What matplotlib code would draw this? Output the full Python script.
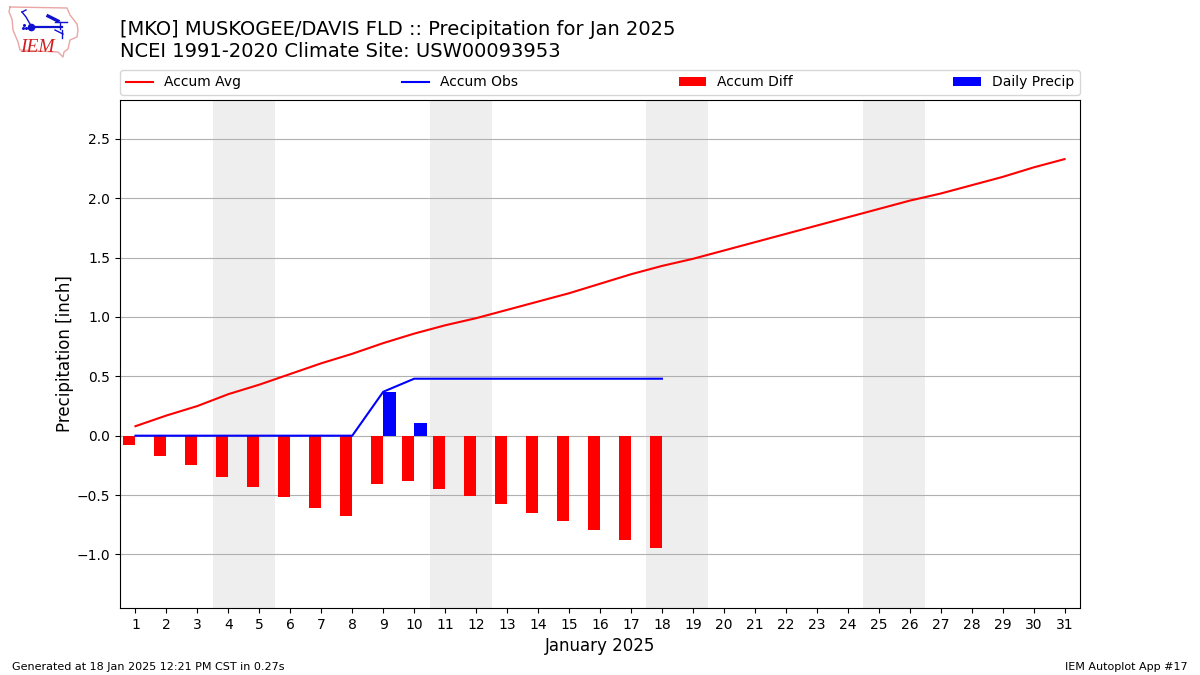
import numpy as np
import matplotlib
matplotlib.use("Agg")
import matplotlib.pyplot as plt
from matplotlib.lines import Line2D

# Days of the month
days = list(range(1, 32))
obs_days = list(range(1, 19))

# Climatology accumulation
accum_avg = [0.08, 0.17, 0.25, 0.35, 0.43, 0.52, 0.61, 0.69, 0.78, 0.86,
             0.93, 0.99, 1.06, 1.13, 1.20, 1.28, 1.36, 1.43, 1.49, 1.56,
             1.63, 1.70, 1.77, 1.84, 1.91, 1.98, 2.04, 2.11, 2.18, 2.26, 2.33]

# Observed accumulation
accum_obs = [0, 0, 0, 0, 0, 0, 0, 0, 0.37, 0.48,
             0.48, 0.48, 0.48, 0.48, 0.48, 0.48, 0.48, 0.48]

# Departure from average
accum_diff = [-0.08, -0.17, -0.25, -0.35, -0.43, -0.515, -0.61, -0.68, -0.41, -0.38,
              -0.45, -0.51, -0.575, -0.65, -0.72, -0.795, -0.88, -0.945]

# Daily precip
daily_precip = [0, 0, 0, 0, 0, 0, 0, 0, 0.37, 0.11,
                0, 0, 0, 0, 0, 0, 0, 0]

weekends = [(3.5, 5.5), (10.5, 12.5), (17.5, 19.5), (24.5, 26.5)]

fig = plt.figure(figsize=(12, 6.75), dpi=100)
ax = fig.add_axes([0.1, 1 - 608 / 675, 0.8, 508 / 675])

# Shade the weekends
for start, end in weekends:
    ax.axvspan(start, end, color="#EEEEEE", lw=0, zorder=0)

ax.plot(days, accum_avg, color="red", lw=1.5, label="Accum Avg", zorder=3)
ax.plot(obs_days, accum_obs, color="blue", lw=1.5, label="Accum Obs", zorder=3)
ax.bar(obs_days, accum_diff, width=-0.4, align="edge", color="red",
       label="Accum Diff", zorder=2)
ax.bar(obs_days, daily_precip, width=0.4, align="edge", color="blue",
       label="Daily Precip", zorder=2)

ax.set_xlim(0.5, 31.5)
ax.set_ylim(-1.4516, 2.828)
ax.set_xticks(days)
ax.set_yticks([-1.0, -0.5, 0.0, 0.5, 1.0, 1.5, 2.0, 2.5])
ax.grid(axis="y", zorder=1)
ax.set_axisbelow(True)
ax.set_xlabel("January 2025", fontsize=12)
ax.set_ylabel("Precipitation [inch]", fontsize=12, labelpad=2)
ax.legend(loc="lower left", bbox_to_anchor=(0, 1.01, 1, 0.05), ncol=4,
          mode="expand", borderaxespad=0, fontsize=10)

# Titles and footer
fig.text(0.1, 1 - 57 / 675,
         "[MKO] MUSKOGEE/DAVIS FLD :: Precipitation for Jan 2025\n"
         "NCEI 1991-2020 Climate Site: USW00093953", fontsize=14)
fig.text(0.01, 1 - 670 / 675, "Generated at 18 Jan 2025 12:21 PM CST in 0.27s", fontsize=8)
fig.text(0.99, 1 - 670 / 675, "IEM Autoplot App #17", fontsize=8, ha="right")

# Logo, drawn in pixel coordinates of the figure
def logo_line(xs, ys, color, lw):
    fig.add_artist(Line2D(np.array(xs) / 1200, 1 - np.array(ys) / 675,
                          color=color, lw=lw, transform=fig.transFigure))

outline_x = [10, 67, 70, 77, 78, 77, 70, 68, 64, 63, 58, 20, 18, 13, 12, 9, 10]
outline_y = [7, 8, 15, 24, 30, 37, 40, 49, 52, 57, 52, 50, 42, 30, 19, 12, 7]
logo_line(outline_x, outline_y, "#eba5a5", 1.0)
logo_line([31, 62], [26.5, 26.5], "#1010d0", 1.6)
logo_line([22, 26, 30], [12, 17, 24], "#1010d0", 1.0)
logo_line([22, 26], [12, 10], "#1010d0", 1.0)
logo_line([48, 52, 58], [16, 18, 21], "#1010d0", 2.4)
logo_line([55, 67], [22, 22], "#1010d0", 1.0)
logo_line([60, 60], [22, 29], "#1010d0", 1.0)
logo_line([55, 63], [30, 34], "#1010d0", 1.0)
logo_line([62, 62], [30, 38], "#1010d0", 1.0)
fig.add_artist(Line2D([31 / 1200], [1 - 26.5 / 675], marker="o", ms=4.5, color="#1010d0",
                      transform=fig.transFigure))
fig.add_artist(Line2D(np.array([24, 26, 23]) / 1200, 1 - np.array([25, 28, 28]) / 675, ls="",
                      marker="o", ms=1.2, color="#1010d0", transform=fig.transFigure))
fig.text(20 / 1200, 1 - 52 / 675, "IEM", color="#d02020", fontsize=14,
         family="Liberation Serif", style="italic")

fig.savefig("out.png", dpi=100)
